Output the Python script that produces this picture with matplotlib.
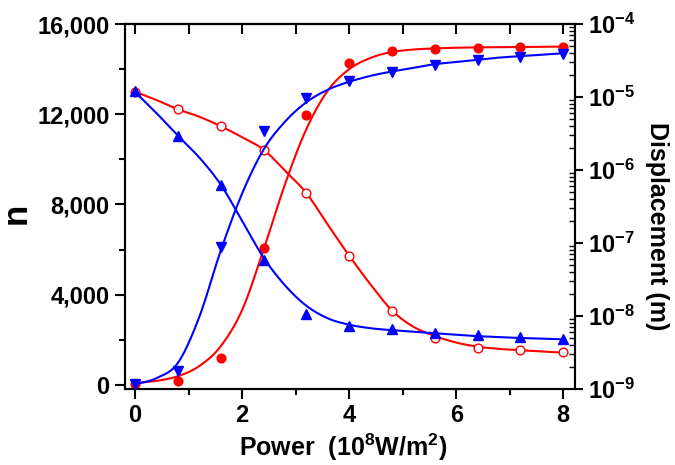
import numpy as np
import matplotlib
matplotlib.use("Agg")
import matplotlib.pyplot as plt
from matplotlib.ticker import (FixedLocator,
                               FuncFormatter,
                               LogLocator,
                               NullFormatter)

plt.rcParams.update({
    "font.family": "Liberation Sans",
    "font.weight": "bold",
    "axes.labelweight": "bold",
    "mathtext.fontset": "custom",
    "mathtext.rm": "Liberation Sans:bold",
    "mathtext.bf": "Liberation Sans:bold",
    "mathtext.it": "Liberation Sans:bold",
    "mathtext.default": "bf",
})

# measured points
power = [0.0, 0.8, 1.6, 2.4, 3.2, 4.0, 4.8, 5.6, 6.4, 7.2, 8.0]
n_rise = [30, 170, 1210, 6080, 11970, 14290, 14790, 14910, 14960, 14980, 15000]
n_fall = [13000, 12220, 11470, 10430, 8500, 5730, 3280, 2070, 1655, 1540, 1450]
disp_rise = [1.16e-9, 1.78e-9, 8.9e-8, 3.45e-6, 9.8e-6, 1.66e-5,
             2.2e-5, 2.79e-5, 3.21e-5, 3.59e-5, 3.86e-5]
disp_fall = [1.21e-5, 2.88e-6, 6.24e-7, 5.94e-8, 1.07e-8, 7.35e-9,
             6.58e-9, 5.9e-9, 5.44e-9, 5.13e-9, 4.84e-9]

# fitted curves
fit_power = [0.0, 0.4, 0.8, 1.2, 1.6, 2.0, 2.4, 2.8, 3.2, 3.6, 4.0,
             4.4, 4.8, 5.2, 5.6, 6.0, 6.4, 6.8, 7.2, 7.6, 8.0]
fit_n_rise = [80, 180, 390, 840, 1720, 3330, 6000, 8900, 11350, 13050, 14000,
              14500, 14760, 14870, 14920, 14950, 14965, 14975, 14985, 14990, 15000]
fit_n_fall = [13000, 12630, 12220, 11890, 11470, 10980, 10430, 9500, 8500, 7100, 5730,
              4450, 3300, 2580, 2170, 1880, 1700, 1600, 1540, 1480, 1430]
fit_disp_rise = [1.16e-9, 1.41e-9, 2.29e-9, 9.8e-9, 7.9e-8, 4.8e-7, 1.91e-6,
                 4.6e-6, 8.5e-6, 1.26e-5, 1.62e-5, 1.95e-5, 2.24e-5, 2.51e-5,
                 2.82e-5, 3.02e-5, 3.24e-5, 3.47e-5, 3.63e-5, 3.8e-5, 3.98e-5]
fit_disp_fall = [1.17e-5, 6.0e-6, 2.95e-6, 1.48e-6, 6.3e-7, 2.0e-7, 6.3e-8,
                 2.63e-8, 1.38e-8, 9.3e-9, 7.6e-9, 6.8e-9, 6.4e-9, 6.1e-9,
                 5.8e-9, 5.55e-9, 5.3e-9, 5.15e-9, 5.0e-9, 4.9e-9, 4.8e-9]

red = "#ff0000"
blue = "#0000ff"


def smooth(x, y, steps=10):
    # Catmull-Rom pass through the read curve samples, only for drawing
    x = np.asarray(x, float)
    y = np.asarray(y, float)
    yp = np.concatenate([[2 * y[0] - y[1]], y, [2 * y[-1] - y[-2]]])
    xs, ys = [], []
    t = np.linspace(0, 1, steps, endpoint=False)
    for i in range(len(x) - 1):
        p0, p1, p2, p3 = yp[i:i + 4]
        ys.append(0.5 * (2 * p1 + (p2 - p0) * t
                         + (2 * p0 - 5 * p1 + 4 * p2 - p3) * t ** 2
                         + (3 * p1 - p0 - 3 * p2 + p3) * t ** 3))
        xs.append(x[i] + (x[i + 1] - x[i]) * t)
    xs.append([x[-1]])
    ys.append([y[-1]])
    return np.concatenate(xs), np.concatenate(ys)


fig = plt.figure(figsize=(6.75, 4.65), dpi=100)
ax = fig.add_axes([0.1852, 0.1634, 0.6667, 0.7849])
ax2 = ax.twinx()

for curve in (fit_n_rise, fit_n_fall):
    sx, sy = smooth(fit_power, curve)
    ax.plot(sx, sy, color=red, lw=1.5, zorder=2)
ax.plot(power, n_rise,
        ls="none",
        marker="o",
        ms=6.3,
        color=red,
        zorder=3)
ax.plot(power, n_fall,
        ls="none",
        marker="o",
        ms=6.3,
        mfc="white",
        mec=red,
        mew=1.0,
        zorder=3)

for curve in (fit_disp_rise, fit_disp_fall):
    sx, sy = smooth(fit_power, np.log10(curve))
    ax2.plot(sx, 10 ** sy, color=blue, lw=1.5, zorder=2)
ax2.plot(power, disp_rise,
         ls="none",
         marker="v",
         ms=7.5,
         color=blue,
         zorder=3)
ax2.plot(power, disp_fall,
         ls="none",
         marker="^",
         ms=7.5,
         color=blue,
         zorder=3)

ax.set_xlim(-0.19, 8.22)
ax.set_ylim(-180, 16000)
ax.set_xticks([0, 2, 4, 6, 8])
ax.xaxis.set_minor_locator(FixedLocator([1, 3, 5, 7]))
ax.set_yticks(range(0, 16001, 4000))
ax.yaxis.set_minor_locator(FixedLocator([2000, 6000, 10000, 14000]))
ax.yaxis.set_major_formatter(FuncFormatter(lambda v, pos: f"{int(v):,}"))
ax.tick_params(which="major", direction="out", length=7, width=1.5,
               labelsize=17, pad=4)
ax.tick_params(which="minor", direction="out", length=4, width=1.5)

ax2.set_yscale("log")
ax2.set_ylim(1e-9, 1e-4)
ax2.yaxis.set_major_locator(LogLocator(base=10, numticks=10))
ax2.yaxis.set_minor_locator(LogLocator(base=10, subs=np.arange(2, 10),
                                       numticks=10))
ax2.yaxis.set_minor_formatter(NullFormatter())
ax2.yaxis.set_major_formatter(
    FuncFormatter(lambda v, pos: rf"$10^{{{int(round(np.log10(v)))}}}$"))
ax2.tick_params(which="major", direction="out", length=6, width=1.5,
                labelsize=17, pad=3)
ax2.tick_params(which="minor", direction="in", length=4, width=1.0)

top = ax.secondary_xaxis("top")
top.set_xticks(range(9))
top.tick_params(direction="in", length=7, width=1.5, labeltop=False)

for a in (ax, ax2):
    for spine in a.spines.values():
        spine.set_linewidth(1.5)
top.spines["top"].set_linewidth(1.5)

ax.set_ylabel("n", fontsize=25, fontweight="bold", va="center", ha="center")
ax.yaxis.set_label_coords(-0.242, 0.482)
ax.set_xlabel("Power  (10$^{8}$W/m$^{2}$)", fontsize=18, fontweight="bold",
              va="baseline")
ax.xaxis.set_label_coords(0.4856, -0.1836)
ax2.set_ylabel("Displacement (m)", fontsize=18, fontweight="bold",
               rotation=270, va="center", ha="center")
ax2.yaxis.set_label_coords(1.182, 0.4466)

plt.savefig("out.png", dpi=100)
plt.close()
